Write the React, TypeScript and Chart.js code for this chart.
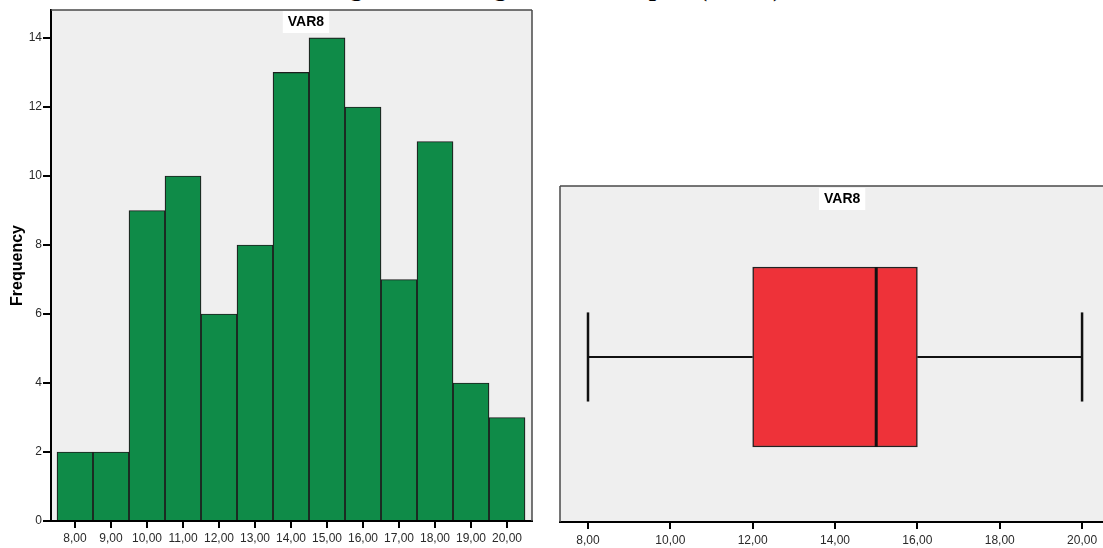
import React, { useEffect, useRef } from 'react';
import { Chart, registerables } from 'chart.js';

Chart.register(...registerables);

// ---- data ----
const binCenters = [8, 9, 10, 11, 12, 13, 14, 15, 16, 17, 18, 19, 20];
const frequencies = [2, 2, 9, 10, 6, 8, 13, 14, 12, 7, 11, 4, 3];
const histXTicks = [8, 9, 10, 11, 12, 13, 14, 15, 16, 17, 18, 19, 20];
const histYTicks = [0, 2, 4, 6, 8, 10, 12, 14];
const boxXTicks = [8, 10, 12, 14, 16, 18, 20];
const boxMin = 8;
const boxQ1 = 12;
const boxMedian = 15;
const boxQ3 = 16;
const boxMax = 20;
const variableName = 'VAR8';
const yAxisTitle = 'Frequency';
const figureTitle = 'Figure 4: Histogram and boxplot (VAR8)';

// ---- styles ----
const FONT = "'Liberation Sans', Arial, sans-serif";
const PANEL_BG = '#efefef';
const GREEN = '#0f8b48';
const RED = '#ee3239';
const BOX_HALF = 0.545; // half box height in y units
const CAP_HALF = 0.27; // half whisker-cap height in y units

const fmt = (v: number) => Number(v).toFixed(2).replace('.', ',');

const panelPlugin = {
  id: 'panel',
  beforeDraw(chart: any, _args: any, opts: any) {
    const { ctx, chartArea: a } = chart;
    ctx.save();
    ctx.fillStyle = PANEL_BG;
    ctx.fillRect(a.left, a.top, a.right - a.left, a.bottom - a.top);
    ctx.restore();
  },
  afterDraw(chart: any, _args: any, opts: any) {
    const { ctx, chartArea: a } = chart;
    ctx.save();
    ctx.strokeStyle = '#4a4a4a';
    ctx.lineWidth = 1.5;
    ctx.beginPath();
    (opts.sides || []).forEach((s: string) => {
      if (s === 'top') { ctx.moveTo(a.left, a.top); ctx.lineTo(a.right, a.top); }
      if (s === 'right') { ctx.moveTo(a.right, a.top); ctx.lineTo(a.right, a.bottom); }
      if (s === 'left') { ctx.moveTo(a.left, a.top); ctx.lineTo(a.left, a.bottom); }
    });
    ctx.stroke();
    const cx = a.left + (a.right - a.left) * opts.labelFrac;
    ctx.font = `bold 14px ${FONT}`;
    const w = ctx.measureText(opts.label).width + 10;
    const top = a.top + opts.labelTop;
    ctx.fillStyle = '#ffffff';
    ctx.fillRect(cx - w / 2, top, w, 22);
    ctx.fillStyle = '#000';
    ctx.textAlign = 'center';
    ctx.textBaseline = 'middle';
    ctx.fillText(opts.label, cx, top + 11.5);
    ctx.restore();
  },
};

function HistogramChart() {
  const ref = useRef<HTMLCanvasElement | null>(null);
  useEffect(() => {
    if (!ref.current) return;
    const chart = new Chart(ref.current, {
      type: 'bar',
      data: {
        datasets: [
          {
            data: binCenters.map((x, i) => ({ x, y: frequencies[i] })),
            backgroundColor: GREEN,
            borderColor: '#1e1e1e',
            borderWidth: 1.2,
            borderSkipped: 'start',
            barPercentage: 1,
            categoryPercentage: 1,
          } as any,
        ],
      },
      options: {
        animation: false,
        responsive: false,
        events: [],
        layout: { padding: { left: 0, top: 10, right: 13, bottom: 0 } },
        plugins: {
          legend: { display: false },
          tooltip: { enabled: false },
          panel: { sides: ['top', 'right'], label: variableName, labelFrac: 0.53, labelTop: 1 },
        } as any,
        scales: {
          x: {
            type: 'linear',
            min: 7.333,
            max: 20.694,
            offset: false,
            afterBuildTicks: (s: any) => { s.ticks = histXTicks.map((value) => ({ value })); },
            afterFit: (s: any) => { s.height = 27; },
            grid: { offset: false, drawOnChartArea: false, drawTicks: true, tickLength: 7, color: '#000', lineWidth: 2 },
            border: { display: true, color: '#000', width: 2 },
            ticks: { padding: 3, color: '#2a2a2a', font: { size: 12, family: FONT }, callback: (v: any) => fmt(v), maxRotation: 0, autoSkip: false },
          },
          y: {
            type: 'linear',
            min: 0,
            max: 14.81,
            afterBuildTicks: (s: any) => { s.ticks = histYTicks.map((value) => ({ value })); },
            afterFit: (s: any) => { s.width = 51; },
            grid: { drawOnChartArea: false, drawTicks: true, tickLength: 8, color: '#000', lineWidth: 2 },
            border: { display: true, color: '#000', width: 2 },
            ticks: { padding: 1, color: '#2a2a2a', font: { size: 12, family: FONT }, callback: (v: any) => String(v) },
            title: { display: true, text: yAxisTitle, color: '#000', font: { size: 16, weight: 'bold', family: FONT }, padding: { top: 8, bottom: 0 } },
          },
        },
      } as any,
      plugins: [panelPlugin as any],
    });
    return () => chart.destroy();
  }, []);
  return <canvas ref={ref} width={545} height={548} style={{ position: 'absolute', left: 0, top: 0 }} />;
}

function BoxplotChart() {
  const ref = useRef<HTMLCanvasElement | null>(null);
  useEffect(() => {
    if (!ref.current) return;
    const lineStyle = { type: 'line', borderColor: '#111', borderWidth: 2, pointRadius: 0, fill: false, tension: 0, order: 0, clip: false };
    const chart = new Chart(ref.current, {
      type: 'bar',
      data: {
        datasets: [
          {
            type: 'bar',
            indexAxis: 'y',
            data: [{ x: [boxQ1, boxQ3], y: 0 }],
            backgroundColor: RED,
            borderColor: '#222',
            borderWidth: 1.5,
            borderSkipped: false,
            barThickness: 180,
            order: 1,
          },
          { ...lineStyle, data: [{ x: boxMin, y: 0 }, { x: boxQ1, y: 0 }] },
          { ...lineStyle, data: [{ x: boxQ3, y: 0 }, { x: boxMax, y: 0 }] },
          { ...lineStyle, borderWidth: 2.5, data: [{ x: boxMin, y: -CAP_HALF }, { x: boxMin, y: CAP_HALF }] },
          { ...lineStyle, borderWidth: 2.5, data: [{ x: boxMax, y: -CAP_HALF }, { x: boxMax, y: CAP_HALF }] },
          { ...lineStyle, borderWidth: 3, data: [{ x: boxMedian, y: -BOX_HALF }, { x: boxMedian, y: BOX_HALF }] },
        ] as any,
      },
      options: {
        animation: false,
        responsive: false,
        events: [],
        indexAxis: 'y',
        layout: { padding: { left: 15, top: 186, right: 3, bottom: 0 } },
        plugins: {
          legend: { display: false },
          tooltip: { enabled: false },
          panel: { sides: ['top', 'left'], label: variableName, labelFrac: 0.502, labelTop: 2 },
        } as any,
        scales: {
          x: {
            type: 'linear',
            position: 'bottom',
            min: 7.32,
            max: 20.97,
            offset: false,
            beginAtZero: false,
            afterBuildTicks: (s: any) => { s.ticks = boxXTicks.map((value) => ({ value })); },
            afterFit: (s: any) => { s.height = 26; },
            grid: { offset: false, drawOnChartArea: false, drawTicks: true, tickLength: 7, color: '#000', lineWidth: 2 },
            border: { display: true, color: '#000', width: 2 },
            ticks: { padding: 4, color: '#2a2a2a', font: { size: 12, family: FONT }, callback: (v: any) => fmt(v), maxRotation: 0, autoSkip: false },
          },
          y: {
            type: 'linear',
            min: -1,
            max: 1.036,
            display: false,
            offset: false,
            grid: { offset: false },
          },
        },
      } as any,
      plugins: [panelPlugin as any],
    });
    return () => chart.destroy();
  }, []);
  return <canvas ref={ref} width={580} height={548} style={{ position: 'absolute', left: 545, top: 0 }} />;
}

export default function App() {
  return (
    <div style={{ position: 'fixed', left: 0, top: 0, width: 1103, height: 548, overflow: 'hidden', background: '#fff' }}>
      <div
        style={{
          position: 'absolute',
          left: 327,
          top: -25,
          fontFamily: "'Liberation Serif', 'Times New Roman', serif",
          fontWeight: 'bold',
          fontSize: 26,
          lineHeight: '26px',
          whiteSpace: 'nowrap',
          color: '#000',
        }}
      >
        {figureTitle}
      </div>
      <HistogramChart />
      <BoxplotChart />
    </div>
  );
}
